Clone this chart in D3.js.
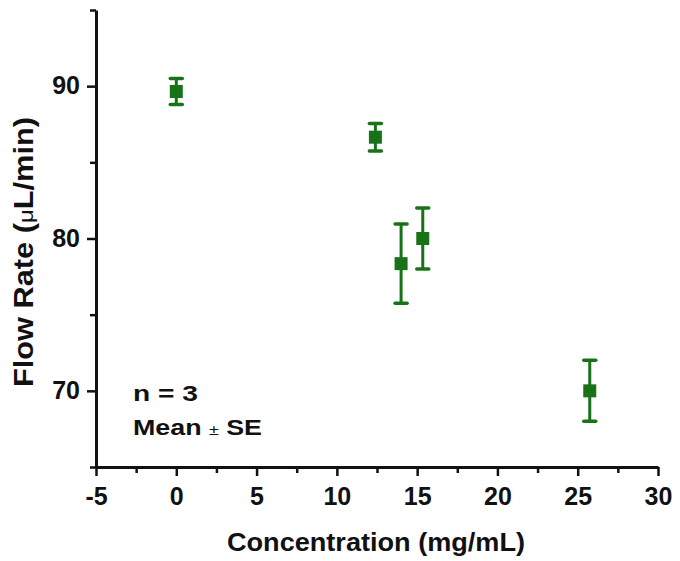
<!DOCTYPE html>
<html><head><meta charset="utf-8">
<script src="https://cdn.jsdelivr.net/npm/d3@7"></script>
<style>
html,body{margin:0;padding:0;background:#fff;}
text{font-family:"Liberation Sans",Arial,sans-serif;font-weight:bold;fill:#111;}
</style></head>
<body>
<svg id="chart" width="680" height="561"></svg>
<script>
const concentration = [0, 12.4, 14.0, 15.35, 25.75];
const flowRate = [89.65, 86.65, 78.35, 80.0, 70.0];
const flowSE = [0.85, 0.9, 2.6, 2.0, 2.0];
const xTickValues = [-5, 0, 5, 10, 15, 20, 25, 30];
const yTickValues = [70, 80, 90];
const xTitle = "Concentration (mg/mL)";
const yTitleParts = ["Flow Rate (", "\u03BC", "L/min)"];
const notes = ["n = 3", "Mean ", "\u00B1", " SE"];

const svg = d3.select("#chart");
const green = "#187318";
const x = d3.scaleLinear().domain([-5, 30]).range([96, 658]);
const y = d3.scaleLinear().domain([65, 95]).range([467, 10]);
const fmt = d => String(d);

// x axis
const xMinor = d3.range(-5, 30.01, 2.5).filter(v => !xTickValues.includes(v));
const gx = svg.append("g").attr("transform", "translate(0,467)");
gx.append("g").call(d3.axisBottom(x).tickValues(xMinor).tickSize(6).tickFormat(""))
  .call(g => g.select(".domain").remove())
  .call(g => g.selectAll("line").attr("stroke", "#111").attr("stroke-width", 2.5));
gx.append("g").call(d3.axisBottom(x).tickValues(xTickValues).tickSize(9).tickSizeOuter(0).tickPadding(11).tickFormat(fmt))
  .call(g => g.select(".domain").attr("stroke", "#111").attr("stroke-width", 3))
  .call(g => g.selectAll("line").attr("stroke", "#111").attr("stroke-width", 2.5))
  .call(g => g.selectAll("text").attr("font-size", 25).attr("fill", "#111").attr("font-family", "Liberation Sans, Arial, sans-serif").attr("font-weight", "bold"));

// y axis
const yMinor = d3.range(65, 95.01, 5).filter(v => !yTickValues.includes(v));
const gy = svg.append("g").attr("transform", "translate(96,0)");
gy.append("g").call(d3.axisLeft(y).tickValues(yMinor).tickSize(6).tickFormat(""))
  .call(g => g.select(".domain").remove())
  .call(g => g.selectAll("line").attr("stroke", "#111").attr("stroke-width", 2.5));
gy.append("g").call(d3.axisLeft(y).tickValues(yTickValues).tickSize(9).tickSizeOuter(0).tickPadding(7).tickFormat(fmt))
  .call(g => g.select(".domain").attr("stroke", "#111").attr("stroke-width", 3))
  .call(g => g.selectAll("line").attr("stroke", "#111").attr("stroke-width", 2.5))
  .call(g => g.selectAll("text").attr("font-size", 25).attr("fill", "#111").attr("dy", "0.3em").attr("font-family", "Liberation Sans, Arial, sans-serif").attr("font-weight", "bold"));

// data
const data = concentration.map((c, i) => ({c, v: flowRate[i], se: flowSE[i]}));
const g = svg.append("g");
const capW = 12;
data.forEach(d => {
  const cx = x(d.c);
  g.append("line").attr("x1", cx).attr("x2", cx).attr("y1", y(d.v + d.se)).attr("y2", y(d.v - d.se))
    .attr("stroke", green).attr("stroke-width", 3);
  [d.v + d.se, d.v - d.se].forEach(e => {
    g.append("line").attr("x1", cx - capW / 2).attr("x2", cx + capW / 2).attr("y1", y(e)).attr("y2", y(e))
      .attr("stroke", green).attr("stroke-width", 3.5).attr("stroke-linecap", "round");
  });
  g.append("rect").attr("x", cx - 6.5).attr("y", y(d.v) - 6.5).attr("width", 13).attr("height", 13).attr("fill", green);
});

// titles
svg.append("text").attr("x", 376).attr("y", 551).attr("text-anchor", "middle").attr("font-size", 25)
  .attr("textLength", 298).attr("lengthAdjust", "spacingAndGlyphs").text(xTitle);
const yt = svg.append("text").attr("transform", "translate(33,252) rotate(-90)").attr("text-anchor", "middle").attr("font-size", 27)
  .attr("textLength", 270).attr("lengthAdjust", "spacingAndGlyphs");
yt.append("tspan").text(yTitleParts[0]);
yt.append("tspan").attr("font-weight", "normal").attr("font-size", 21).text(yTitleParts[1]);
yt.append("tspan").text(yTitleParts[2]);

svg.append("text").attr("x", 133).attr("y", 401).attr("font-size", 22.5)
  .attr("textLength", 65).attr("lengthAdjust", "spacingAndGlyphs").text(notes[0]);
const mt = svg.append("text").attr("x", 133).attr("y", 435).attr("font-size", 22.5)
  .attr("textLength", 129).attr("lengthAdjust", "spacingAndGlyphs");
mt.append("tspan").text(notes[1]);
mt.append("tspan").attr("font-weight", "normal").attr("font-size", 15).text(notes[2]);
mt.append("tspan").text(notes[3]);
</script>
</body></html>
